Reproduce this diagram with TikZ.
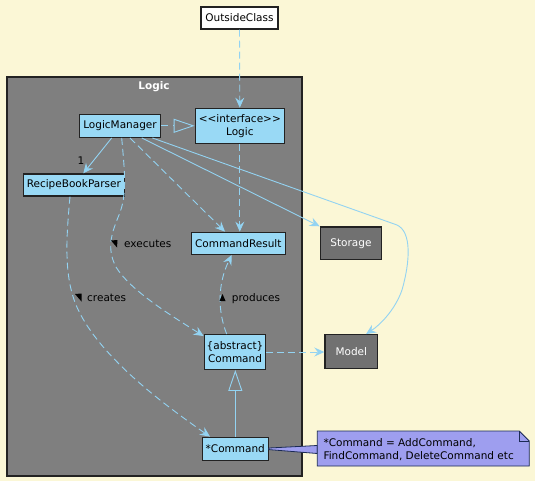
\documentclass[tikz,border=0pt]{standalone}
\usepackage{fontspec}
\setmainfont{DejaVu Sans}
\usetikzlibrary{arrows.meta,calc}
\definecolor{bgcol}{HTML}{FBF7D6}
\definecolor{pkgcol}{HTML}{7F7F7F}
\definecolor{clscol}{HTML}{99D9F5}
\definecolor{edgecol}{HTML}{93D3F2}
\definecolor{extcol}{HTML}{717171}
\definecolor{notefill}{HTML}{9E9EEF}
\definecolor{notedraw}{HTML}{1B2A55}
\definecolor{bordcol}{HTML}{222222}
\begin{document}
\begin{tikzpicture}[x=1pt,y=-1pt,
  font=\fontsize{10.5}{13}\selectfont,
  clsbox/.style={draw=bordcol, line width=1.3pt, fill=clscol, inner sep=0pt, align=center},
  extbox/.style={draw=bordcol, line width=1.3pt, fill=extcol, text=white, inner sep=0pt},
  link/.style={draw=edgecol, line width=0.9pt, -{Stealth[length=10pt,width=9pt,inset=3.5pt]}},
  dep/.style={link, dash pattern=on 7pt off 4pt},
  gen/.style={draw=edgecol, line width=0.9pt, -{Triangle[open,length=21pt,width=14pt]}},
  lbl/.style={text=black, anchor=west, inner sep=0pt},
  notestyle/.style={fill=notefill, draw=notedraw, line width=0.8pt}]
\fill[bgcol] (0,0) rectangle (535,481);
\useasboundingbox (0,0) rectangle (535,481);

% package
\node[draw=bordcol, line width=1.3pt, fill=pkgcol, minimum width=295pt, minimum height=399pt, inner sep=0pt] (pkgbox) at (154.5,276.5) {};
\node[text=white, font=\fontsize{10.5}{13}\selectfont\bfseries, inner sep=0pt] (pkgtitle) at (154,87) {Logic};

% classes
\node[clsbox, fill=white, minimum width=77pt, minimum height=22pt] (oc) at (239.5,18) {OutsideClass};
\node[clsbox, minimum width=81.4pt, minimum height=23pt] (lm) at (120,125.8) {LogicManager};
\node[clsbox, minimum width=89pt, minimum height=35pt] (logic) at (239.8,125.8) {<{}<interface>{}>\\Logic};
\node[clsbox, minimum width=101pt, minimum height=22pt] (rbp) at (73.8,185) {RecipeBookParser};
\node[clsbox, minimum width=94pt, minimum height=22pt] (cr) at (238.3,243.3) {CommandResult};
\node[extbox, minimum width=61.4pt, minimum height=32.7pt] (storage) at (351,243.3) {Storage};
\node[clsbox, minimum width=61.4pt, minimum height=34.6pt] (cmd) at (235,352) {\{abstract\}\\Command};
\node[extbox, minimum width=52.7pt, minimum height=34pt] (model) at (351.3,351.7) {Model};
\node[clsbox, minimum width=66pt, minimum height=23pt] (sc) at (235.3,448.8) {*Command};

% helper coordinates
\coordinate (mA) at (397,225);
\coordinate (mB) at (402,290);
\coordinate (eA) at (119,215);
\coordinate (eB) at (116,267);
\coordinate (cA) at (76,305);

% edges
\draw[dep] (oc.south) -- (logic.north);
\draw[draw=edgecol, line width=0.9pt, dash pattern=on 7pt off 5pt, -{Triangle[open,length=21pt,width=14pt]}] (lm.east) -- (logic.west);
\draw[link] ([xshift=-8.3pt]lm.south) -- ([xshift=9.5pt]rbp.north);
\node[inner sep=0pt] (one) at (81,161) {1};
\draw[dep] (logic.south) -- (logic.south |- cr.north);
\draw[dep] ([xshift=10pt]lm.south) -- ([xshift=-13.3pt]cr.north);
\draw[link] ([xshift=21.7pt]lm.south) -- (storage.north west);
\draw[link] ([xshift=32.3pt]lm.south) -- (mA) .. controls (412,232) and (410,262) .. (mB) .. controls (395,310) and (380,325) .. ([xshift=14.7pt]model.north);
\draw[dep] ([xshift=1.7pt]lm.south) .. controls (125,175) and (127,195) .. (eA) .. controls (112,232) and (106,248) .. (eB) .. controls (130,290) and (170,315) .. ($(cmd.north west)+(0,2)$);
\draw[dep] ([xshift=-3.8pt]rbp.south) .. controls (66,240) and (64,275) .. (cA) .. controls (95,350) and (150,395) .. ([xshift=-25.3pt]sc.north);
\draw[dep] ([xshift=-8.3pt]cmd.north) .. controls (218,312) and (217,285) .. ([xshift=-6.6pt]cr.south);
\draw[dep] (cmd.east) -- (cmd.east -| model.west);
\draw[gen] (sc.north) -- (sc.north |- cmd.south);

% labels
\fill (111,240.5) -- (117.5,240) -- (117,247.5) -- cycle;
\node[lbl] (exec) at (124,243.5) {executes};
\fill (75,294) -- (81.5,293.5) -- (81.5,301.5) -- cycle;
\node[lbl] (creates) at (87,298) {creates};
\fill (219.5,301) -- (225.5,301) -- (222.5,294) -- cycle;
\node[lbl] (produces) at (231.7,298.5) {produces};

% note
\filldraw[notestyle] ([yshift=0.8pt]sc.east) -- (317.3,445.5) -- (317.3,453.5) -- ([yshift=-0.8pt]sc.east) -- cycle;
\filldraw[notestyle] (317.3,431) -- (519.3,431) -- (529.3,441) -- (529.3,466) -- (317.3,466) -- cycle;
\draw[notedraw, line width=0.8pt] (519.3,431) -- (519.3,441) -- (529.3,441);
\node[anchor=west, align=left, inner sep=0pt] (notetext) at (323.3,449.5) {*Command = AddCommand,\\FindCommand, DeleteCommand etc};
\end{tikzpicture}
\end{document}
